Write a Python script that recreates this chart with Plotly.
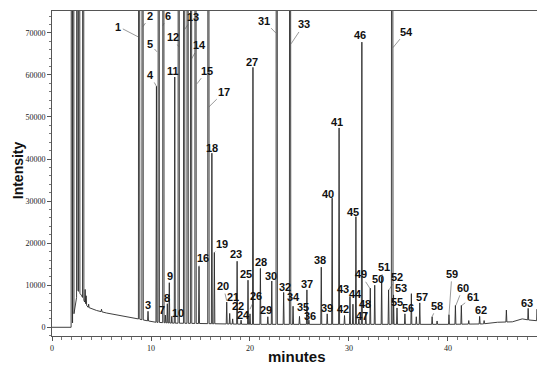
import numpy as np
import plotly.graph_objects as go

OFF = 400000  # peaks that run off the top of the scale

# baseline of the chromatogram (minutes, intensity)
base_t = [0, 1.95, 2.0, 2.6, 3.0, 3.3, 3.6, 4.5, 5.5, 7.0, 8.5, 9.5, 10.5, 12, 15, 20, 30, 40, 43.5, 45, 46.5, 47.5, 48.5, 50]
base_v = [0, 0, 0, 8800, 7500, 6000, 4800, 4000, 3400, 2700, 2100, 1600, 1200, 1000, 900, 700, 700, 700, 800, 1200, 1300, 2000, 1600, 1500]

# peaks: retention time (min), apex intensity, peak number ('' = unlabeled)
peak_t = [2.0, 2.15, 2.55, 2.75, 3.15, 3.35, 3.45, 3.7, 5.0,
          8.8, 9.15, 9.7, 10.55, 10.78, 11.25, 11.45, 11.65, 11.85, 12.1,
          12.4, 12.8, 13.35, 13.7, 14.05, 14.5, 14.85, 15.8, 16.15, 16.4,
          17.65, 17.95, 18.25, 18.7, 19.1, 19.8, 20.0, 20.3, 21.05, 21.8,
          22.2, 22.7, 23.4, 24.05, 24.35, 25.0, 25.75, 25.95, 27.2, 27.8,
          28.3, 29.0, 29.55, 30.1, 30.4, 30.7, 31.0, 31.3, 31.7, 32.15,
          32.6, 33.3, 34.0, 34.35, 34.5, 34.85, 35.65, 36.3, 36.8, 37.15,
          38.4, 38.9, 40.1, 40.75, 41.35, 42.1, 43.2, 43.65, 45.9, 48.1, 49.0]
peak_h = [OFF, OFF, OFF, OFF, OFF, 9000, 7500, 5500, 4300,
          OFF, OFF, 3800, 57300, OFF, OFF, 2900, 5600, 10600, 2600,
          59500, OFF, OFF, OFF, OFF, OFF, 14500, OFF, 41400, 17800,
          6000, 3300, 2000, 15700, 1700, 11200, 3200, 61800, 14000, 2500,
          11000, OFF, 8300, OFF, 5000, 2600, 8900, 1700, 14300, 3200,
          30700, 47400, 2800, 7300, 5500, 26300, 2000, 67800, 3600, 9300,
          10000, 12000, 8900, OFF, 7700, 4600, 3200, 8000, 2500, 5800,
          2500, 1500, 3000, 5200, 5200, 1600, 2600, 1600, 4100, 4500, 4300]
peak_id = ['', '', '', '', '', '', '', '', '',
           '1', '2', '3', '4', '5', '6', '7', '8', '9', '10',
           '11', '12', '13', '', '14', '15', '16', '17', '18', '19',
           '20', '21', '22', '23', '24', '25', '26', '27', '28', '29',
           '30', '31', '32', '33', '34', '35', '37', '36', '38', '39',
           '40', '41', '42', '43', '44', '45', '47', '46', '48', '49',
           '50', '51', '52', '54', '53', '55', '56', '', '', '57',
           '58', '', '59', '60', '61', '', '62', '', '', '63', '']

# label placement (layout): number -> (label x, label y, leader target or None)
label_pos = {
    '1': (6.7, 71500, (8.75, 69000)), '2': (9.9, 73900, (9.2, 71500)),
    '3': (9.7, 5300, None), '4': (9.9, 60000, (10.55, 57300)),
    '5': (9.9, 67400, (10.6, 65500)), '6': (11.7, 74100, (11.2, 71700)),
    '7': (11.1, 4100, None), '8': (11.6, 7000, None), '9': (11.9, 12200, None),
    '10': (12.7, 3400, None), '11': (12.2, 61000, None),
    '12': (12.2, 69000, (12.8, 66700)), '13': (14.25, 73800, (13.4, 70800)),
    '14': (14.85, 67000, (14.05, 63600)), '15': (15.65, 61000, (14.65, 57900)),
    '16': (15.25, 16500, (14.85, 14600)), '17': (17.4, 56000, (15.85, 52400)),
    '18': (16.15, 42600, None), '19': (17.2, 19800, (16.45, 17900)),
    '20': (17.3, 9800, (17.65, 6300)), '21': (18.3, 7200, None),
    '22': (18.8, 5100, None), '23': (18.6, 17400, None), '24': (19.3, 2900, None),
    '25': (19.6, 12700, None), '26': (20.6, 7400, (20.0, 4300)),
    '27': (20.2, 63100, None), '28': (21.1, 15600, None), '29': (21.6, 4100, None),
    '30': (22.1, 12200, None), '31': (21.4, 72900, (22.6, 70000)),
    '32': (23.5, 9600, None), '33': (25.45, 72000, (24.15, 67400)),
    '34': (24.35, 7200, None), '35': (25.35, 4800, None), '36': (26.1, 2700, None),
    '37': (25.75, 10300, None), '38': (27.1, 16000, None), '39': (27.8, 4600, None),
    '40': (27.9, 31700, None), '41': (28.8, 48800, None), '42': (29.4, 4400, None),
    '43': (29.4, 9100, (30.1, 7300)), '44': (30.7, 7900, None),
    '45': (30.4, 27400, None), '46': (31.1, 69600, None), '47': (31.3, 2700, None),
    '48': (31.6, 5500, None), '49': (31.2, 12600, (32.1, 9300)),
    '50': (32.9, 11500, (32.6, 10000)), '51': (33.5, 14400, (33.3, 12000)),
    '52': (34.85, 12000, (34.05, 8900)), '53': (35.25, 9300, (34.5, 7700)),
    '54': (35.76, 70300, (34.45, 66500)), '55': (34.85, 6000, None),
    '56': (35.95, 4600, (35.65, 3200)), '57': (37.4, 7200, None),
    '58': (38.9, 5100, (38.4, 2500)), '59': (40.4, 12700, (40.1, 3000)),
    '60': (41.5, 9400, (40.8, 5200)), '61': (42.5, 7200, (41.4, 5200)),
    '62': (43.3, 4100, None), '63': (48.0, 5800, None),
}

# ---- build the trace from the peak table ----
pts = []
windows = []
for t, h in zip(peak_t, peak_h):
    w = 0.07 if h >= OFF else 0.05
    windows.append((t - w, t + w))
    pts.append((t - w, float(np.interp(t - w, base_t, base_v))))
    pts.append((t, h))
    pts.append((t + w, float(np.interp(t + w, base_t, base_v))))
for bt, bv in zip(base_t, base_v):
    if not any(a <= bt <= b for a, b in windows):
        pts.append((bt, bv))
pts.sort(key=lambda p: p[0])
xs = [p[0] for p in pts]
ys = [p[1] for p in pts]

fig = go.Figure()
fig.add_trace(go.Scatter(x=xs, y=ys, mode='lines',
                         line=dict(color='#2a2a2a', width=0.9),
                         hoverinfo='skip', showlegend=False))

lab_font = dict(family='Liberation Sans, Arial, sans-serif', size=11, color='#111')
for pid in peak_id:
    if not pid:
        continue
    lx, ly, tgt = label_pos[pid]
    if tgt is None:
        fig.add_annotation(x=lx, y=ly, xref='x', yref='y', text='<b>%s</b>' % pid,
                           showarrow=False, font=lab_font)
    else:
        fig.add_annotation(x=tgt[0], y=tgt[1], ax=lx, ay=ly, xref='x', yref='y',
                           axref='x', ayref='y', text='<b>%s</b>' % pid,
                           showarrow=True, arrowhead=0, arrowwidth=0.6,
                           arrowcolor='#555', standoff=0, font=lab_font)

# axis titles
fig.add_annotation(x=-34 / 493, y=0.51, xref='paper', yref='paper', text='<b>Intensity</b>',
                   textangle=-90, showarrow=False, xanchor='center', yanchor='middle',
                   font=dict(family='Liberation Sans, Arial, sans-serif', size=14, color='#111'))
fig.add_annotation(x=0.497, y=-0.064, xref='paper', yref='paper', text='<b>minutes</b>',
                   showarrow=False, xanchor='center', yanchor='middle',
                   font=dict(family='Liberation Sans, Arial, sans-serif', size=15, color='#111'))

tick_font = dict(family='Liberation Serif, Times New Roman, serif', size=8, color='#222')
fig.update_xaxes(range=[0, 49.8], dtick=10, tick0=0, ticks='outside', ticklen=4,
                 tickcolor='#555', showgrid=False, zeroline=False, showline=True,
                 linecolor='#555', linewidth=1, mirror=True, tickfont=tick_font,
                 minor=dict(dtick=1, ticks='outside', ticklen=3, tickcolor='#777'))
fig.update_yaxes(range=[-2070, 75200], dtick=10000, tick0=0, tickformat='d',
                 ticks='outside', ticklen=4, tickcolor='#555', showgrid=False,
                 zeroline=False, showline=True, linecolor='#555', linewidth=1,
                 tickfont=tick_font,
                 minor=dict(dtick=2000, ticks='outside', ticklen=2, tickcolor='#777'))

# the page adds an 8px body margin, so the figure is sized to end at the window edge
fig.update_layout(width=537, height=358, margin=dict(l=44, r=0, t=3, b=30),
                  plot_bgcolor='white', paper_bgcolor='white', showlegend=False)

fig.write_html('out.html')
